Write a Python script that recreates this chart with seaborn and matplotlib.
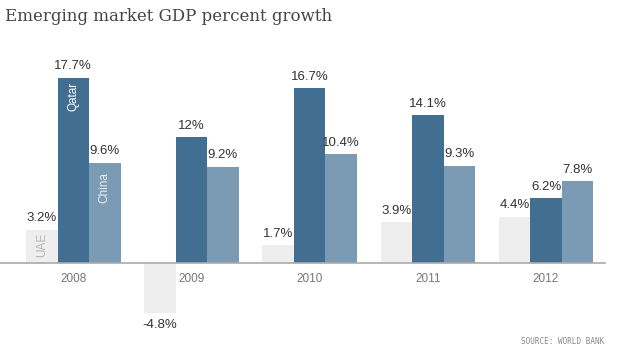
import seaborn as sns
import matplotlib.pyplot as plt
import pandas as pd

years = ["2008", "2009", "2010", "2011", "2012"]
countries = ["UAE", "Qatar", "China"]
uae = [3.2, -4.8, 1.7, 3.9, 4.4]
qatar = [17.7, 12, 16.7, 14.1, 6.2]
china = [9.6, 9.2, 10.4, 9.3, 7.8]

colors = {"UAE": "#eeeeee", "Qatar": "#426f91", "China": "#7a9bb3"}
narrow = ["Liberation Sans", "DejaVu Sans"]

rows = []
for name, vals in zip(countries, [uae, qatar, china]):
    for y, v in zip(years, vals):
        rows.append([y, v, name])
df = pd.DataFrame(rows, columns=["Year", "Growth", "Country"])

sns.set_style("white")
fig = plt.figure(figsize=(6.2, 3.52), dpi=100)
ax = fig.add_axes([0, 0.0625, 0.976, 0.767])

sns.barplot(data=df, x="Year", y="Growth", hue="Country", order=years,
            hue_order=countries, palette=colors, saturation=1, linewidth=0,
            width=0.8, legend=False, ax=ax)

ax.set_xlim(-0.62, 4.5)
ax.set_ylim(-6.4, 19.4)
ax.set_xlabel("")
ax.set_ylabel("")
ax.set_yticks([])
for s in ["top", "left", "right"]:
    ax.spines[s].set_visible(False)
ax.spines["bottom"].set_position(("data", 0))
ax.spines["bottom"].set_color("#aaaaaa")
ax.spines["bottom"].set_linewidth(1.2)
ax.tick_params(axis="x", length=0, pad=7, labelsize=8.5, labelcolor="#777777")
for t in ax.get_xticklabels():
    t.set_family(narrow)

for cont in ax.containers:
    ax.bar_label(cont, labels=["%g%%" % b.get_height() for b in cont],
                 padding=4, fontsize=9.5, color="#333333", family=narrow)

# country names inside the 2008 bars
b = ax.containers[0][0]
ax.text(b.get_x() + b.get_width() / 2, 0.6, "UAE", rotation=90, ha="center",
        va="bottom", color="#b5b5b5", fontsize=8.5, family=narrow)
b = ax.containers[1][0]
ax.text(b.get_x() + b.get_width() / 2, b.get_height() - 0.4, "Qatar", rotation=90,
        ha="center", va="top", color="white", fontsize=8.5, family=narrow)
b = ax.containers[2][0]
ax.text(b.get_x() + b.get_width() / 2, b.get_height() - 0.9, "China", rotation=90,
        ha="center", va="top", color="#e8eef3", fontsize=8.5, family=narrow)

fig.text(0.008, 0.952, "Emerging market GDP percent growth", fontsize=12,
         family="DejaVu Serif", color="#444444", va="center", ha="left")
fig.text(0.975, 0.018, "SOURCE: WORLD BANK", fontsize=5.5, family="DejaVu Sans Mono",
         color="#888888", ha="right", va="bottom")

plt.savefig("out.png", dpi=100)
